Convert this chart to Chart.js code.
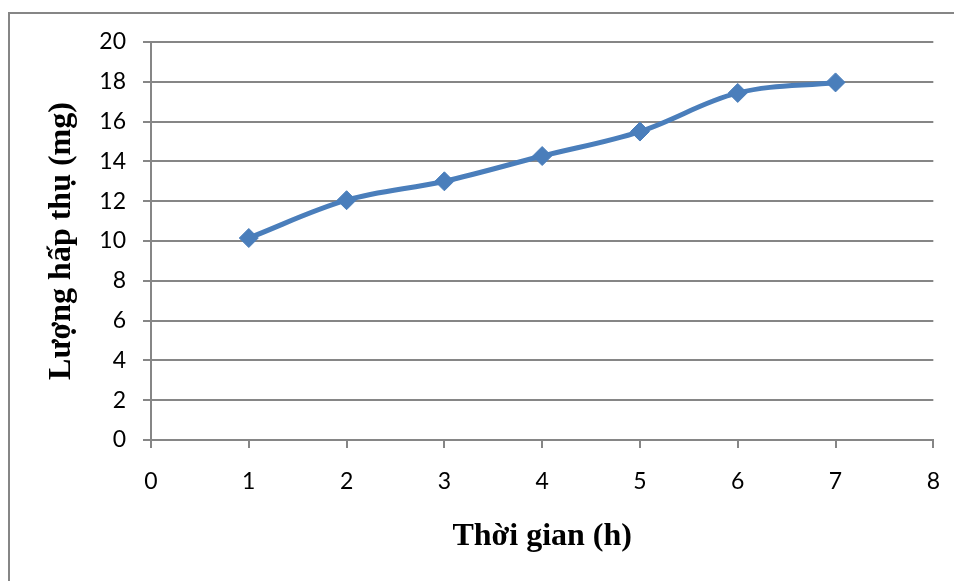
<!DOCTYPE html>
<html>
<head>
<meta charset="utf-8">
<script src="https://cdn.jsdelivr.net/npm/chart.js@4/dist/chart.umd.min.js"></script>
<style>
html,body{margin:0;padding:0;background:#fff;overflow:hidden;}
#wrap{width:954px;height:581px;position:relative;}
canvas{display:block;}
</style>
</head>
<body>
<div id="wrap"><canvas id="c" width="954" height="581"></canvas></div>
<script>
const xValues = [1, 2, 3, 4, 5, 6, 7];
const yValues = [10.15, 12.05, 13.0, 14.27, 15.5, 17.44, 17.97];
const xTitle = 'Thời gian (h)';
const yTitle = 'Lượng hấp thụ (mg)';

const gridColor = '#868686';
const frame = {
  id: 'frame',
  beforeDraw(chart) {
    const ctx = chart.ctx;
    ctx.save();
    ctx.strokeStyle = gridColor;
    ctx.lineWidth = 2;
    ctx.strokeRect(9, 13, 1000, 1000);
    ctx.restore();
  }
};

new Chart(document.getElementById('c'), {
  type: 'scatter',
  data: {
    datasets: [{
      data: xValues.map((x, i) => ({x: x, y: yValues[i]})),
      showLine: true,
      borderColor: '#4A7EBB',
      backgroundColor: '#4A7EBB',
      borderWidth: 5,
      tension: 0.35,
      pointStyle: 'rectRot',
      pointRadius: 9.5,
      pointHoverRadius: 9.5,
      pointBorderWidth: 1,
      pointBorderColor: '#4A7EBB'
    }]
  },
  options: {
    responsive: false,
    animation: false,
    events: [],
    layout: {padding: {left: 0, top: 42, right: 8, bottom: 0}},
    plugins: {legend: {display: false}, tooltip: {enabled: false}},
    scales: {
      x: {
        type: 'linear', min: 0, max: 8,
        afterFit(s) { s.height = 141; },
        ticks: {stepSize: 1, color: '#000', padding: 14, font: {family: 'Lato', size: 23, lineHeight: '40px'}},
        grid: {drawOnChartArea: false, drawTicks: true, tickLength: 8, color: gridColor, lineWidth: 2},
        border: {color: gridColor, width: 2},
        title: {display: true, text: xTitle, color: '#000', padding: {top: 0, bottom: 25},
          font: {family: 'Liberation Serif', size: 32, weight: 'bold', lineHeight: 1.2}}
      },
      y: {
        type: 'linear', min: 0, max: 20,
        afterFit(s) { s.width = 151; },
        ticks: {stepSize: 2, color: '#000', padding: 17, font: {family: 'Lato', size: 23, lineHeight: 1.2}},
        grid: {drawOnChartArea: true, drawTicks: true, tickLength: 8, color: gridColor, lineWidth: 2},
        border: {color: gridColor, width: 2},
        title: {display: true, text: yTitle, color: '#000', padding: {top: 43, bottom: 0},
          font: {family: 'Liberation Serif', size: 32, weight: 'bold', lineHeight: 1.2}}
      }
    }
  },
  plugins: [frame]
});
</script>
</body>
</html>
